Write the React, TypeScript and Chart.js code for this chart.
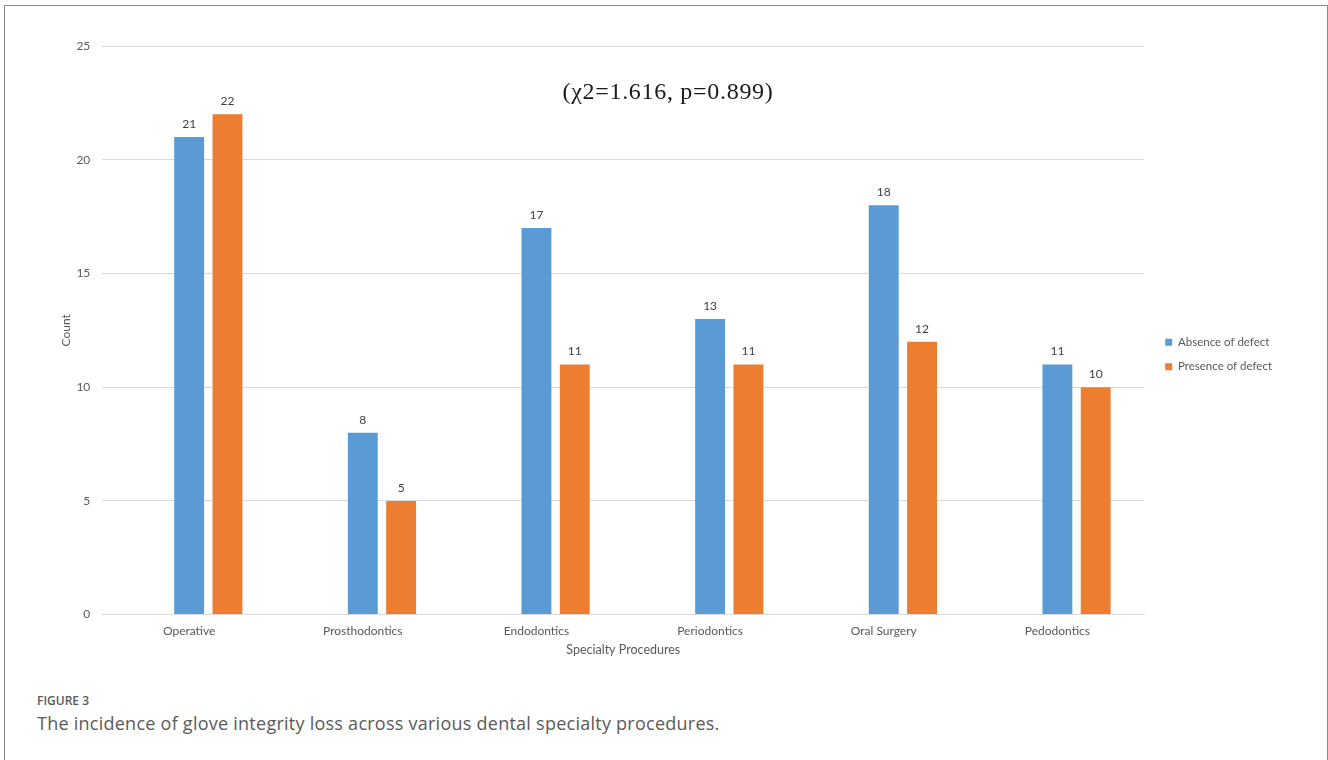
import React, { useEffect, useRef } from "react";
import { Chart, registerables } from "chart.js";

Chart.register(...registerables);

const categories = ["Operative", "Prosthodontics", "Endodontics", "Periodontics", "Oral Surgery", "Pedodontics"];
const absenceOfDefect = [21, 8, 17, 13, 18, 11];
const presenceOfDefect = [22, 5, 11, 11, 12, 10];
const spacerSeries = [null, null, null, null, null, null];
const yTicks = [0, 5, 10, 15, 20, 25];
const seriesNames = ["Absence of defect", "Presence of defect"];
const statText = "(\u03C72=1.616, p=0.899)";
const figureLabel = "FIGURE 3";
const captionText = "The incidence of glove integrity loss across various dental specialty procedures.";

const FONT = "Lato, 'Open Sans', sans-serif";

const valueLabels = {
  id: "valueLabels",
  afterDatasetsDraw(chart: any) {
    const ctx = chart.ctx;
    ctx.save();
    ctx.font = "12px " + FONT;
    ctx.fillStyle = "#404040";
    ctx.textAlign = "center";
    ctx.textBaseline = "bottom";
    chart.data.datasets.forEach((ds: any, i: number) => {
      if (!ds.showValues) return;
      const meta = chart.getDatasetMeta(i);
      meta.data.forEach((bar: any, j: number) => {
        const v = ds.data[j];
        if (v == null) return;
        ctx.fillText(String(v), bar.x, bar.y - 7);
      });
    });
    ctx.restore();
  },
};

// widen the gap between the plot area and the legend entries
const LEGEND_GAP = 8;
const LEGEND_DROP = 3;
const legendGap = {
  id: "legendGap",
  afterInit(chart: any) {
    const legend = chart.legend;
    if (!legend || legend._gapWrapped) return;
    const origFit = legend.fit.bind(legend);
    legend.fit = function () {
      origFit();
      this.width += LEGEND_GAP;
    };
    legend._gapWrapped = true;
  },
  afterLayout(chart: any) {
    const legend = chart.legend;
    if (!legend) return;
    legend.left += LEGEND_GAP;
    legend.top += LEGEND_DROP;
    legend.bottom += LEGEND_DROP;
    if (legend.legendHitBoxes) {
      legend.legendHitBoxes.forEach((b: any) => {
        b.left += LEGEND_GAP;
        b.top += LEGEND_DROP;
      });
    }
  },
};

export default function App() {
  const canvasRef = useRef<HTMLCanvasElement | null>(null);

  useEffect(() => {
    if (!canvasRef.current) return;
    const chart = new Chart(canvasRef.current, {
      type: "bar",
      data: {
        labels: categories,
        datasets: [
          {
            label: "",
            data: spacerSeries,
            backgroundColor: "rgba(0,0,0,0)",
          } as any,
          {
            label: seriesNames[0],
            data: absenceOfDefect,
            backgroundColor: "#5B9BD5",
            showValues: true,
          } as any,
          {
            label: seriesNames[1],
            data: presenceOfDefect,
            backgroundColor: "#ED7D31",
            showValues: true,
          } as any,
        ],
      },
      options: {
        animation: false,
        responsive: true,
        maintainAspectRatio: false,
        datasets: {
          bar: { categoryPercentage: 0.662, barPercentage: 0.78 },
        },
        layout: { padding: { left: 59, right: 46, top: 46, bottom: 15 } },
        plugins: {
          tooltip: { enabled: false },
          legend: {
            position: "right",
            labels: {
              filter: (item: any) => item.text !== "",
              boxWidth: 7,
              boxHeight: 7,
              padding: 13,
              color: "#595959",
              font: { family: FONT, size: 11.5 },
            },
          },
        },
        scales: {
          x: {
            grid: { display: false },
            border: { display: true, color: "#d9d9d9" },
            ticks: { color: "#595959", font: { family: FONT, size: 12 }, padding: 1 },
            title: {
              display: true,
              text: "Specialty Procedures",
              color: "#595959",
              font: { family: FONT, size: 12.5 },
              padding: { top: 3, bottom: 0 },
            },
          },
          y: {
            min: 0,
            max: 25,
            afterBuildTicks: (axis: any) => {
              axis.ticks = yTicks.map((v) => ({ value: v }));
            },
            grid: { color: "#d9d9d9", drawTicks: false },
            border: { display: false },
            ticks: { color: "#595959", font: { family: FONT, size: 12 }, padding: 12 },
            title: {
              display: true,
              text: "Count",
              color: "#595959",
              font: { family: FONT, size: 12 },
              padding: { top: 0, bottom: -9 },
            },
          },
        },
      },
      plugins: [valueLabels, legendGap],
    });
    return () => chart.destroy();
  }, []);

  return (
    <div
      style={{
        position: "fixed",
        left: 0,
        top: 0,
        width: 1328,
        height: 760,
        background: "#fff",
        overflow: "hidden",
        fontFamily: FONT,
      }}
    >
      <div
        style={{
          position: "absolute",
          left: 4,
          top: 5,
          width: 1322,
          height: 800,
          border: "1px solid #8a8a8a",
        }}
      />
      <div style={{ position: "absolute", left: 0, top: 0, width: 1328, height: 672 }}>
        <canvas ref={canvasRef} />
      </div>
      <div
        style={{
          position: "absolute",
          left: 468,
          width: 400,
          top: 76,
          textAlign: "center",
          fontFamily: "'Liberation Serif', 'DejaVu Serif', serif",
          fontSize: 24,
          letterSpacing: 0.7,
          lineHeight: "30px",
          color: "#1a1a1a",
        }}
      >
        {statText}
      </div>
      <div
        style={{
          position: "absolute",
          left: 37,
          top: 692,
          fontFamily: "'Open Sans', Lato, sans-serif",
          fontWeight: 600,
          fontSize: 12,
          lineHeight: "18px",
          color: "#5a5a5a",
        }}
      >
        {figureLabel}
      </div>
      <div
        style={{
          position: "absolute",
          left: 37,
          top: 711,
          fontFamily: "'Open Sans', Lato, sans-serif",
          fontWeight: 400,
          fontSize: 18,
          letterSpacing: 0.25,
          lineHeight: "25px",
          color: "#5a5a5a",
        }}
      >
        {captionText}
      </div>
    </div>
  );
}
